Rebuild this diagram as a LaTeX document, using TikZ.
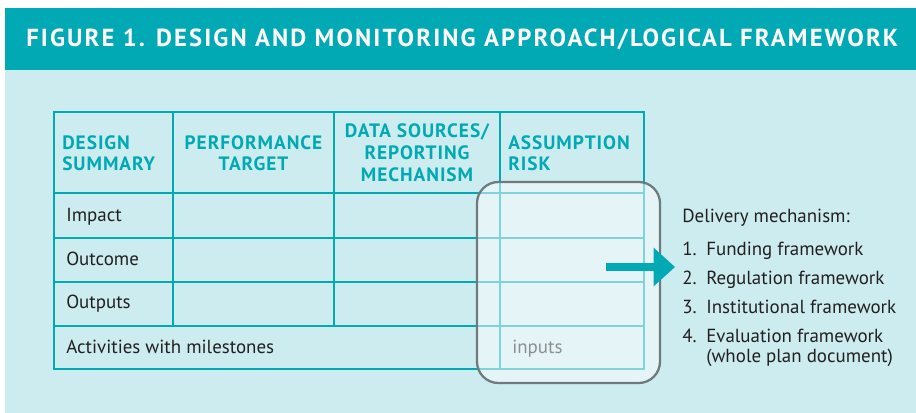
\documentclass[tikz,border=0pt]{standalone}
\usepackage{fontspec}
\setmainfont{PT Sans}
\newfontfamily\headfont[LetterSpace=5]{PT Sans}
\newfontfamily\titlefont[LetterSpace=8.5]{PT Sans}
\usetikzlibrary{arrows.meta}
\definecolor{barteal}{HTML}{00A9B3}
\definecolor{paleteal}{HTML}{CCECEF}
\definecolor{inktext}{HTML}{231F20}
\definecolor{framegray}{HTML}{6E7A7B}
\definecolor{inputgray}{HTML}{8C8F90}
\tikzset{
    gridline/.style={draw=barteal, line width=1.5pt},
    headtext/.style={anchor=base, inner sep=0pt, text=barteal,
        font=\headfont\bfseries\fontsize{14.5}{17}\selectfont},
    celltext/.style={anchor=base west, inner sep=0pt, text=inktext,
        font=\fontsize{14.2}{17}\selectfont},
}

\begin{document}
\begin{tikzpicture}[x=0.75pt,y=-0.75pt]
    \useasboundingbox (0,0) rectangle (916,413);
    % background and title bar
    \fill[paleteal] (5,70) rectangle (916,413);
    \fill[barteal] (5,8) rectangle (916,70);
    \node[anchor=base west, inner sep=0pt, text=white,
        font=\titlefont\bfseries\fontsize{18.5}{22}\selectfont] (title) at (26,47)
        {FIGURE 1. DESIGN AND MONITORING APPROACH/LOGICAL FRAMEWORK};

    % table grid
    \draw[gridline] (54,112) rectangle (644,369);
    \draw[gridline] (54,193) -- (644,193);
    \draw[gridline] (54,238) -- (644,238);
    \draw[gridline] (54,282) -- (644,282);
    \draw[gridline] (54,326) -- (644,326);
    \draw[gridline] (173,112) -- (173,326);
    \draw[gridline] (334,112) -- (334,326);
    \draw[gridline] (500,112) -- (500,369);

    % header
    \node[headtext, anchor=base west] (designA) at (62,150) {DESIGN};
    \node[headtext, anchor=base west] (designB) at (62,171) {SUMMARY};
    \node[headtext] (targetA) at (253.5,150) {PERFORMANCE};
    \node[headtext] (targetB) at (253.5,171) {TARGET};
    \node[headtext] (sourceA) at (417,138) {DATA SOURCES/};
    \node[headtext] (sourceB) at (417,160) {REPORTING};
    \node[headtext] (sourceC) at (417,182) {MECHANISM};
    \node[headtext, anchor=base west] (riskA) at (508,150) {ASSUMPTION};
    \node[headtext, anchor=base west] (riskB) at (508,171) {RISK};

    % rows
    \node[celltext] (impact) at (66,222) {Impact};
    \node[celltext] (outcome) at (66,265) {Outcome};
    \node[celltext] (outputs) at (66,308) {Outputs};
    \node[celltext] (activities) at (66,353) {Activities with milestones};

    % highlighted assumption column
    \draw[draw=framegray, line width=1.7pt, fill=white, fill opacity=0.5,
        rounded corners=16pt] (477,182) rectangle (660,383);
    \node[celltext, text=inputgray] (inputs) at (512,353) {inputs};

    % delivery mechanism
    \node[celltext] (delivery) at (682,223) {Delivery mechanism:};
    \node[celltext] (numA) at (682,255) {1.};
    \node[celltext] (itemA) at (706,255) {Funding framework};
    \node[celltext] (numB) at (682,284) {2.};
    \node[celltext] (itemB) at (706,284) {Regulation framework};
    \node[celltext] (numC) at (682,313) {3.};
    \node[celltext] (itemC) at (706,313) {Institutional framework};
    \node[celltext] (numD) at (682,342) {4.};
    \node[celltext] (itemD) at (706,342) {Evaluation framework};
    \node[celltext] (itemE) at (706,362) {(whole plan document)};

    % arrow
    \coordinate (arrowfrom) at (606,267);
    \coordinate (arrowto) at (675,267);
    \draw[barteal, line width=5.3pt,
        -{Triangle[length=16pt, width=28pt]}] (arrowfrom) -- (arrowto);
\end{tikzpicture}
\end{document}
